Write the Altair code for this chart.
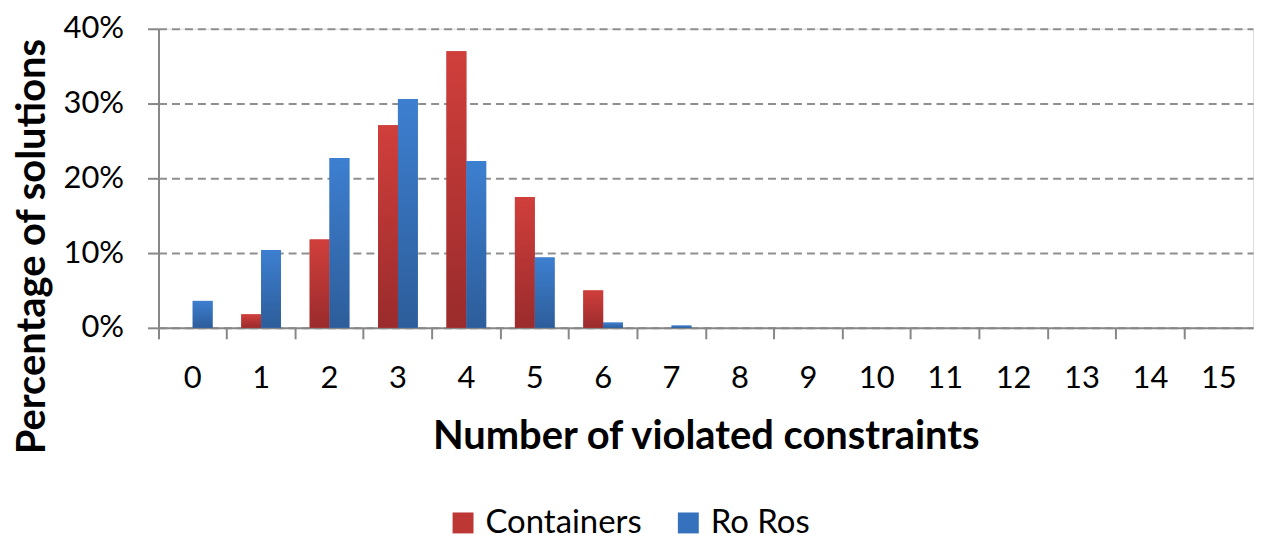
import altair as alt
import pandas as pd

# ---- data ----
categories = [str(i) for i in range(16)]
series_names = ["Containers", "Ro Ros"]
containers_pct = [0.0, 1.8, 11.8, 27.1, 37.0, 17.5, 5.0, 0.0, 0.0, 0.0, 0.0, 0.0, 0.0, 0.0, 0.0, 0.0]
roros_pct = [3.6, 10.4, 22.7, 30.6, 22.3, 9.4, 0.7, 0.3, 0.0, 0.0, 0.0, 0.0, 0.0, 0.0, 0.0, 0.0]
y_ticks = [0.0, 0.1, 0.2, 0.3, 0.4]

solid_colors = ["#bd3735", "#3571bd"]

rows = []
for c, a, b in zip(categories, containers_pct, roros_pct):
    rows.append({"cat": c, "series": "Containers", "value": a / 100.0})
    rows.append({"cat": c, "series": "Ro Ros", "value": b / 100.0})
df = pd.DataFrame(rows)

FONT = "Lato"
W, H = 1098, 300

red_grad = alt.LinearGradient(
    gradient="linear", x1=0, y1=0, x2=0, y2=1,
    stops=[alt.GradientStop(offset=0, color="#d03f3b"),
           alt.GradientStop(offset=1, color="#9a2b2c")],
)
blue_grad = alt.LinearGradient(
    gradient="linear", x1=0, y1=0, x2=0, y2=1,
    stops=[alt.GradientStop(offset=0, color="#3d7fd0"),
           alt.GradientStop(offset=1, color="#2d5d9a")],
)

x_enc = alt.X(
    "cat:O", sort=categories,
    scale=alt.Scale(paddingInner=0, paddingOuter=0),
    axis=alt.Axis(
        title="Number of violated constraints",
        bandPosition=0,
        labelAngle=0, labelFontSize=31, labelFont=FONT, labelColor="#000000",
        labelPadding=25, tickSize=11, tickColor="#878787", tickWidth=2,
        domainColor="#878787", domainWidth=2,
        titleFontSize=40, titleFont=FONT, titleFontWeight="bold", titleColor="#000000",
        titleY=121, titleBaseline="alphabetic",
        grid=False,
    ),
)
xoff_enc = alt.XOffset(
    "series:N", sort=series_names,
    scale=alt.Scale(domain=series_names, paddingInner=0, paddingOuter=0.724),
)
y_enc = alt.Y(
    "value:Q",
    scale=alt.Scale(domain=[0, 0.4], nice=False),
    axis=alt.Axis(
        title="Percentage of solutions",
        values=y_ticks, format=".0%",
        labelFontSize=31, labelFont=FONT, labelColor="#000000",
        labelPadding=24, tickSize=11, tickColor="#878787", tickWidth=2,
        domainColor="#878787", domainWidth=2,
        grid=True, gridColor="#8f8f8f", gridWidth=2, gridDash=[8, 5],
        titleFontSize=40, titleFont=FONT, titleFontWeight="bold", titleColor="#000000",
        titleX=-114, titleY=218, titleBaseline="alphabetic", titleAngle=-90,
    ),
)

base = alt.Chart(df).mark_bar().encode(
    x=x_enc, xOffset=xoff_enc, y=y_enc,
    color=alt.Color(
        "series:N",
        scale=alt.Scale(domain=series_names, range=solid_colors),
        legend=alt.Legend(
            title=None, orient="none", legendX=289, legendY=479,
            direction="horizontal", symbolType="square", symbolSize=441,
            symbolStrokeWidth=0, labelFontSize=33, labelFont=FONT,
            labelColor="#000000", labelOffset=6, columnPadding=30, padding=0,
        ),
    ),
)

red = alt.Chart(df).transform_filter(alt.datum.series == "Containers").mark_bar(
    fill=red_grad
).encode(x=x_enc, xOffset=xoff_enc, y=y_enc)

blue = alt.Chart(df).transform_filter(alt.datum.series == "Ro Ros").mark_bar(
    fill=blue_grad
).encode(x=x_enc, xOffset=xoff_enc, y=y_enc)

chart = alt.layer(base, red, blue).properties(
    width=W, height=H,
    padding={"left": 151, "top": 20, "right": 2, "bottom": 207},
    autosize=alt.AutoSizeParams(type="none"),
).configure_view(stroke=None).configure(background="white")

chart.save("out.html", embed_options={"renderer": "svg", "actions": False})
